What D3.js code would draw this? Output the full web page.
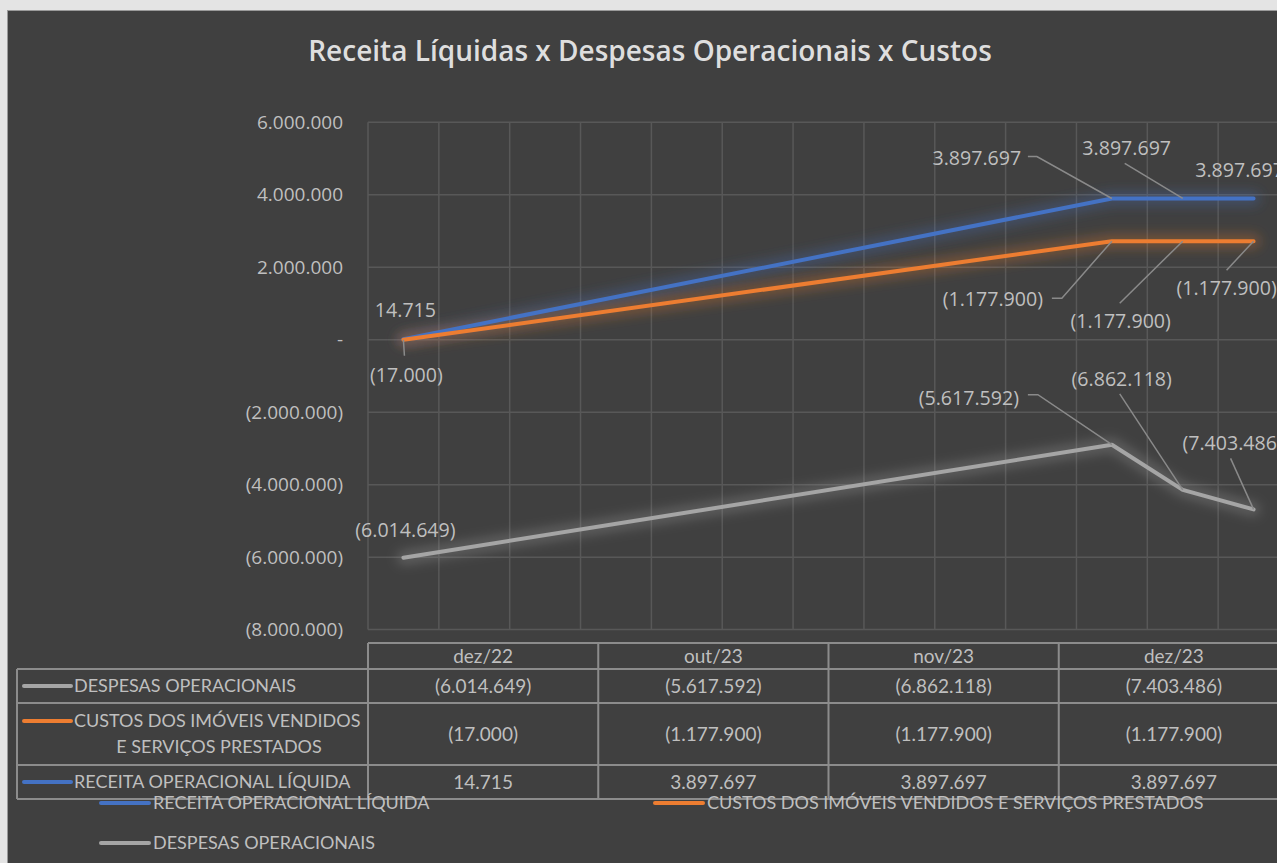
<!DOCTYPE html>
<html>
<head>
<meta charset="utf-8">
<script src="https://cdn.jsdelivr.net/npm/d3@7"></script>
<style>
  body { margin: 0; background: #e4e4e4; }
  svg { display: block; }
</style>
</head>
<body>
<div id="chart"></div>
<script>
// ---- data ----
var months = ["dez/22", "out/23", "nov/23", "dez/23"];
var monthDates = ["2022-12-01", "2023-10-01", "2023-11-01", "2023-12-01"];
var receita = [14715, 3897697, 3897697, 3897697];
var custos = [-17000, -1177900, -1177900, -1177900];
var despesas = [-6014649, -5617592, -6862118, -7403486];
var yTicks = [6000000, 4000000, 2000000, 0, -2000000, -4000000, -6000000, -8000000];

var seriesNames = {
  receita: "RECEITA OPERACIONAL LÍQUIDA",
  custos: "CUSTOS DOS IMÓVEIS VENDIDOS E SERVIÇOS PRESTADOS",
  despesas: "DESPESAS OPERACIONAIS"
};
var colors = { receita: "#4472c4", custos: "#ed7d31", despesas: "#a5a5a5" };

// label placement (offset of label centre from its point) and leader start points
var labelPos = {
  receita: [[2, -29], [-135, -40], [-56, -50], [-14, -28]],
  custos: [[3, 35], [-119, 58], [-62, 80], [-27, 47]],
  despesas: [[2, -28], [-143, -47], [-61, -111], [-21, -66]]
};
var leaders = {
  receita: [null, [[-84, -42], [-75, -42]], [[-58, -35]], null],
  custos: [[[1, 16]], [[-60, 57], [-50, 57]], [[-63, 62]], [[-27, 29]]],
  despesas: [null, [[-84, -50], [-74, -50]], [[-63, -96]], [[-23, -51]]]
};

var svgWidth = 1277;
var svgHeight = 863;

var plot = { left: 368, right: 1289, top: 122.3, bottom: 629.6 };

var ptBR = d3.formatLocale({ decimal: ",", thousands: ".", grouping: [3], currency: ["R$", ""] });
var fmtInt = ptBR.format(",.0f");
function fmt(v) {
  if (v === 0) return "-";
  return v < 0 ? "(" + fmtInt(-v) + ")" : fmtInt(v);
}

var parseDate = d3.timeParse("%Y-%m-%d");

var rows = months.map(function(m, i) {
  return {
    month: m,
    date: parseDate(monthDates[i]),
    receita: receita[i],
    custos: custos[i],
    despesas: despesas[i]
  };
});

var svg = d3.select("#chart")
  .append("svg")
  .attr("width", svgWidth)
  .attr("height", svgHeight);

var defs = svg.append("defs");
defs.append("filter")
  .attr("id", "glow")
  .attr("x", "-20%").attr("y", "-50%")
  .attr("width", "140%").attr("height", "200%")
  .append("feGaussianBlur")
  .attr("stdDeviation", 6);

// chart background
svg.append("rect")
  .attr("x", 7.5)
  .attr("y", 10.5)
  .attr("width", svgWidth)
  .attr("height", svgHeight)
  .attr("fill", "#404040")
  .attr("stroke", "#9a9a9a")
  .attr("stroke-width", 1);

// title
svg.append("text")
  .attr("x", 650)
  .attr("y", 61)
  .attr("text-anchor", "middle")
  .attr("font-family", "'Open Sans', sans-serif")
  .attr("font-weight", 600)
  .attr("font-size", 28)
  .attr("fill", "#dedede")
  .text("Receita Líquidas x Despesas Operacionais x Custos");

// ---- scales ----
var allMonths = d3.timeMonth.range(parseDate("2022-12-01"), parseDate("2024-01-01"));
var xBand = d3.scaleBand()
  .domain(allMonths.map(function(d) { return +d; }))
  .range([plot.left, plot.right]);
function xPos(date) { return xBand(+date) + xBand.bandwidth() / 2; }

var yScale = d3.scaleLinear()
  .domain([-8000000, 6000000])
  .range([plot.bottom, plot.top]);

// gridlines
var grid = svg.append("g").attr("stroke", "#585858").attr("stroke-width", 1.5);
grid.selectAll("line.h")
  .data(yTicks)
  .enter()
  .append("line")
  .attr("class", "h")
  .attr("x1", plot.left)
  .attr("x2", svgWidth + 20)
  .attr("y1", function(d) { return yScale(d); })
  .attr("y2", function(d) { return yScale(d); });

var vLines = allMonths.map(function(d) { return xBand(+d); }).concat([plot.right]);
grid.selectAll("line.v")
  .data(vLines)
  .enter()
  .append("line")
  .attr("class", "v")
  .attr("x1", function(d) { return d; })
  .attr("x2", function(d) { return d; })
  .attr("y1", plot.top)
  .attr("y2", plot.bottom);

// y axis labels
var leftAxis = d3.axisLeft(yScale)
  .tickValues(yTicks)
  .tickFormat(fmt)
  .tickSize(0)
  .tickPadding(0);

var yAxisG = svg.append("g")
  .attr("transform", "translate(343,0)")
  .call(leftAxis);
yAxisG.select(".domain").remove();
yAxisG.selectAll("text")
  .attr("font-family", "'Open Sans', sans-serif")
  .attr("font-size", 19)
  .attr("fill", "#bfbfbf");

// ---- stacked lines ----
var keys = ["receita", "custos", "despesas"];
var stacked = d3.stack().keys(keys)(rows);

var line = d3.line()
  .x(function(d) { return xPos(d.data.date); })
  .y(function(d) { return yScale(d[1]); });

var lines = svg.append("g");
stacked.forEach(function(s) {
  lines.append("path")
    .datum(s)
    .attr("d", line)
    .attr("fill", "none")
    .attr("stroke", colors[s.key])
    .attr("stroke-width", 14)
    .attr("stroke-opacity", 0.3)
    .attr("stroke-linejoin", "round")
    .attr("stroke-linecap", "round")
    .attr("filter", "url(#glow)");
});
stacked.forEach(function(s) {
  lines.append("path")
    .datum(s)
    .attr("d", line)
    .attr("fill", "none")
    .attr("stroke", colors[s.key])
    .attr("stroke-width", 4)
    .attr("stroke-linejoin", "round")
    .attr("stroke-linecap", "round");
});

// ---- data labels with leader lines ----
var labels = svg.append("g");
stacked.forEach(function(s) {
  s.forEach(function(d, i) {
    var px = xPos(d.data.date);
    var py = yScale(d[1]);
    var lead = leaders[s.key][i];
    if (lead) {
      var pts = lead.map(function(p) { return [px + p[0], py + p[1]]; }).concat([[px, py]]);
      labels.append("path")
        .attr("d", d3.line()(pts))
        .attr("fill", "none")
        .attr("stroke", "#8a8a8a")
        .attr("stroke-width", 1.5);
    }
    var off = labelPos[s.key][i];
    labels.append("text")
      .attr("x", px + off[0])
      .attr("y", py + off[1])
      .attr("dy", "0.35em")
      .attr("text-anchor", "middle")
      .attr("font-family", "'Open Sans', sans-serif")
      .attr("font-size", 19.6)
      .attr("fill", "#bfbfbf")
      .text(fmt(d.data[s.key]));
  });
});

// ---- data table ----
var tableTop = 643, headBottom = 669;
var rowBounds = [669, 703, 765, 799];
var colX = d3.range(months.length + 1).map(function(i) {
  return plot.left + i * (plot.right - plot.left) / months.length;
});
var table = svg.append("g");
var tStroke = "#8c8c8c";

table.append("line")
  .attr("x1", plot.left).attr("x2", svgWidth + 20)
  .attr("y1", tableTop).attr("y2", tableTop)
  .attr("stroke", tStroke).attr("stroke-width", 2);
rowBounds.forEach(function(y) {
  table.append("line")
    .attr("x1", 17).attr("x2", svgWidth + 20)
    .attr("y1", y).attr("y2", y)
    .attr("stroke", tStroke).attr("stroke-width", 2);
});
table.append("line")
  .attr("x1", 17).attr("x2", 17)
  .attr("y1", headBottom).attr("y2", 799)
  .attr("stroke", tStroke).attr("stroke-width", 2);
colX.forEach(function(x) {
  table.append("line")
    .attr("x1", x).attr("x2", x)
    .attr("y1", tableTop).attr("y2", 799)
    .attr("stroke", tStroke).attr("stroke-width", 2);
});

var tFont = "Lato, sans-serif";
var tSize = 18;   // row names
var nSize = 19;   // numbers and months

months.forEach(function(m, i) {
  table.append("text")
    .attr("x", (colX[i] + colX[i + 1]) / 2)
    .attr("y", 656)
    .attr("dy", "0.35em")
    .attr("text-anchor", "middle")
    .attr("font-family", tFont)
    .attr("font-size", nSize)
    .attr("fill", "#bfbfbf")
    .text(m);
});

var tableRows = [
  { key: "despesas", label: ["DESPESAS OPERACIONAIS"] },
  { key: "custos", label: ["CUSTOS DOS IMÓVEIS VENDIDOS", "E SERVIÇOS PRESTADOS"] },
  { key: "receita", label: ["RECEITA OPERACIONAL LÍQUIDA"] }
];

tableRows.forEach(function(r, ri) {
  var y0 = rowBounds[ri], y1 = rowBounds[ri + 1];
  var cy = (y0 + y1) / 2;
  var firstY = r.label.length > 1 ? cy - 13 : cy;
  table.append("line")
    .attr("x1", 24).attr("x2", 71)
    .attr("y1", firstY).attr("y2", firstY)
    .attr("stroke", colors[r.key])
    .attr("stroke-width", 4)
    .attr("stroke-linecap", "round");
  table.append("text")
    .attr("x", 74)
    .attr("y", firstY)
    .attr("dy", "0.35em")
    .attr("font-family", tFont)
    .attr("font-size", tSize)
    .attr("fill", "#bfbfbf")
    .text(r.label[0]);
  if (r.label.length > 1) {
    table.append("text")
      .attr("x", 219)
      .attr("y", cy + 13)
      .attr("dy", "0.35em")
      .attr("text-anchor", "middle")
      .attr("font-family", tFont)
      .attr("font-size", tSize)
      .attr("fill", "#bfbfbf")
      .text(r.label[1]);
  }
  rows.forEach(function(d, i) {
    table.append("text")
      .attr("x", (colX[i] + colX[i + 1]) / 2)
      .attr("y", cy)
      .attr("dy", "0.35em")
      .attr("text-anchor", "middle")
      .attr("font-family", tFont)
      .attr("font-size", nSize)
      .attr("fill", "#bfbfbf")
      .text(fmt(d[r.key]));
  });
});

// ---- legend ----
var legendItems = [
  { key: "receita", x: 101, y: 803 },
  { key: "custos", x: 655, y: 803 },
  { key: "despesas", x: 101, y: 843 }
];
var legend = svg.append("g");
legendItems.forEach(function(l) {
  legend.append("line")
    .attr("x1", l.x).attr("x2", l.x + 48)
    .attr("y1", l.y).attr("y2", l.y)
    .attr("stroke", colors[l.key])
    .attr("stroke-width", 4)
    .attr("stroke-linecap", "round");
  legend.append("text")
    .attr("x", l.x + 52)
    .attr("y", l.y)
    .attr("dy", "0.35em")
    .attr("font-family", tFont)
    .attr("font-size", tSize)
    .attr("fill", "#bfbfbf")
    .text(seriesNames[l.key]);
});
</script>
</body>
</html>
